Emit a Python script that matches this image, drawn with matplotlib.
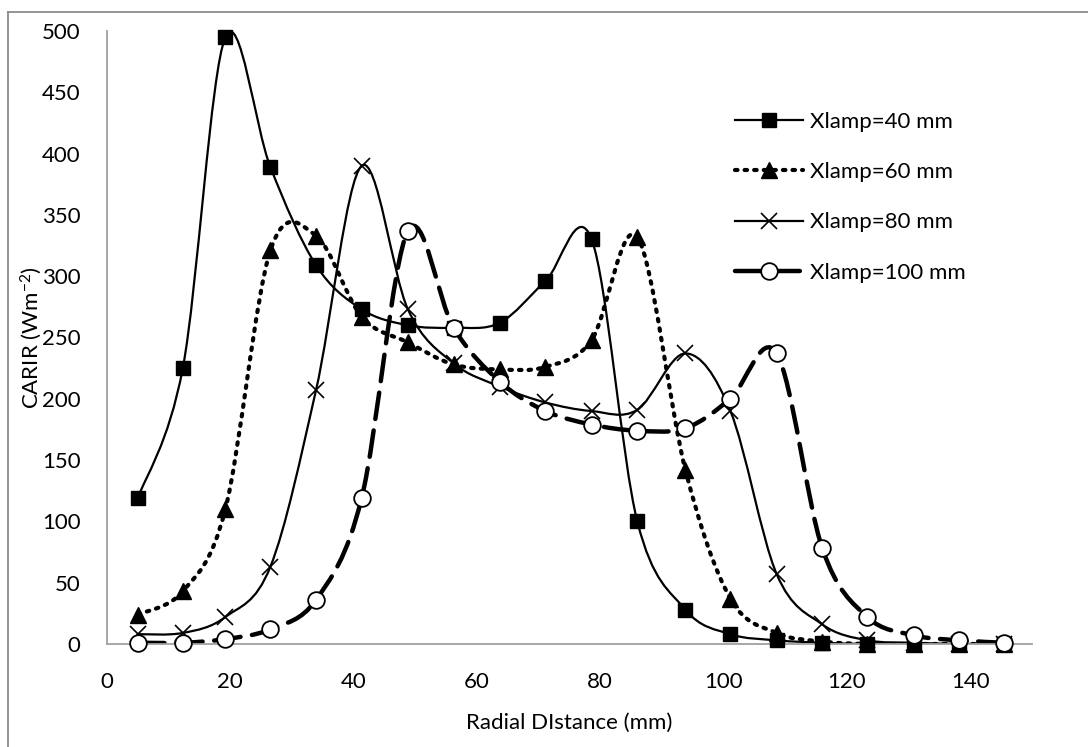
import matplotlib
matplotlib.use("Agg")
import matplotlib.pyplot as plt
from matplotlib.path import Path
from matplotlib.patches import PathPatch
from matplotlib.lines import Line2D

plt.rcParams["font.family"] = ["Lato", "DejaVu Sans"]
plt.rcParams["mathtext.fontset"] = "custom"
plt.rcParams["mathtext.rm"] = "Lato"
plt.rcParams["mathtext.it"] = "Lato"

# radial positions (mm)
radial = [5.0, 12.3, 19.2, 26.5, 33.9, 41.3, 48.8, 56.2, 63.7, 71.1,
          78.6, 86.0, 93.8, 101.1, 108.6, 116.0, 123.3, 130.9, 138.2, 145.5]

carir_40 = [119, 225, 495, 389, 309, 273, 260, 258, 262, 296,
            330, 100, 28, 8, 3, 1, 0, 0, 0, 0]
carir_60 = [24, 43, 110, 321, 333, 267, 246, 228, 224, 226,
            248, 332, 142, 37, 9, 2, 0, 0, 0, 0]
carir_80 = [8, 9, 22, 63, 207, 390, 273, 229, 210, 197,
            190, 191, 237, 190, 57, 16, 3, 1, 0, 0]
carir_100 = [1, 1, 4, 12, 36, 119, 337, 258, 214, 190,
             179, 174, 176, 200, 237, 78, 22, 7, 3, 1]

labels = ["Xlamp=40 mm", "Xlamp=60 mm", "Xlamp=80 mm", "Xlamp=100 mm"]


def smooth_path(xs, ys):
    # excel-like smoothed line: cubic bezier through every point
    pts = list(zip(xs, ys))
    verts = [pts[0]]
    codes = [Path.MOVETO]
    n = len(pts)
    for i in range(n - 1):
        p0 = pts[i - 1] if i > 0 else pts[i]
        p1 = pts[i]
        p2 = pts[i + 1]
        p3 = pts[i + 2] if i + 2 < n else pts[i + 1]
        c1 = (p1[0] + (p2[0] - p0[0]) / 6, p1[1] + (p2[1] - p0[1]) / 6)
        c2 = (p2[0] - (p3[0] - p1[0]) / 6, p2[1] - (p3[1] - p1[1]) / 6)
        verts += [c1, c2, p2]
        codes += [Path.CURVE4] * 3
    return Path(verts, codes)


styles = [
    dict(ls="-", lw=1.6, marker="s", ms=10, mfc="black", mew=1.0),
    dict(ls=(0, (0.6, 1.7)), lw=3.0, marker="^", ms=11, mfc="black", mew=1.0),
    dict(ls="-", lw=1.6, marker="x", ms=11, mfc="black", mew=1.2),
    dict(ls=(0, (6, 2.6)), lw=3.2, marker="o", ms=12, mfc="white", mew=1.3),
]

FS = 16

fig = plt.figure(figsize=(10.88, 7.47), dpi=100)
ax = fig.add_axes([0.0983, 0.1379, 0.8502, 0.8206])

handles = []
for ys, st, lab in zip([carir_40, carir_60, carir_80, carir_100], styles, labels):
    patch = PathPatch(smooth_path(radial, ys), fill=False, edgecolor="black",
                      lw=st["lw"], linestyle=st["ls"], capstyle="round", zorder=2)
    ax.add_patch(patch)
    ax.plot(radial, ys, ls="none", marker=st["marker"], ms=st["ms"],
            mfc=st["mfc"], mec="black", mew=st["mew"], zorder=3, clip_on=False)
    handles.append(Line2D([], [], color="black", lw=st["lw"], ls=st["ls"],
                          marker=st["marker"], ms=st["ms"], mfc=st["mfc"],
                          mec="black", mew=st["mew"], dash_capstyle="round"))

ax.set_xlim(0, 150)
ax.set_ylim(0, 500)
ax.set_xticks(range(0, 141, 20))
ax.set_yticks(range(0, 501, 50))
ax.tick_params(length=0, labelsize=FS, colors="black")
ax.tick_params(axis="y", pad=19)
ax.tick_params(axis="x", pad=20)
for s in ["top", "right"]:
    ax.spines[s].set_visible(False)
for s in ["left", "bottom"]:
    ax.spines[s].set_color("#a0a0a0")
    ax.spines[s].set_linewidth(1.3)

ax.set_xlabel("Radial DIstance (mm)", fontsize=FS)
ax.xaxis.set_label_coords(0.5, -0.112)
ax.set_ylabel("CARIR (Wm$^{-2}$)", fontsize=FS)
ax.yaxis.set_label_coords(-0.068, 0.5)

ax.legend(handles, labels, loc="upper left", bbox_to_anchor=(0.6756, 0.850),
          bbox_transform=fig.transFigure, frameon=False, fontsize=FS,
          handlelength=3.05, handletextpad=0.32, labelspacing=1.36,
          borderpad=0, borderaxespad=0)

# outer chart frame (left and top edges visible)
fig.add_artist(Line2D([8 / 1088, 8 / 1088], [0, 1 - 12 / 747], color="#8c8c8c",
                      lw=1.3, transform=fig.transFigure))
fig.add_artist(Line2D([8 / 1088, 1], [1 - 12 / 747, 1 - 12 / 747], color="#8c8c8c",
                      lw=1.3, transform=fig.transFigure))

fig.savefig("out.png", dpi=100)
